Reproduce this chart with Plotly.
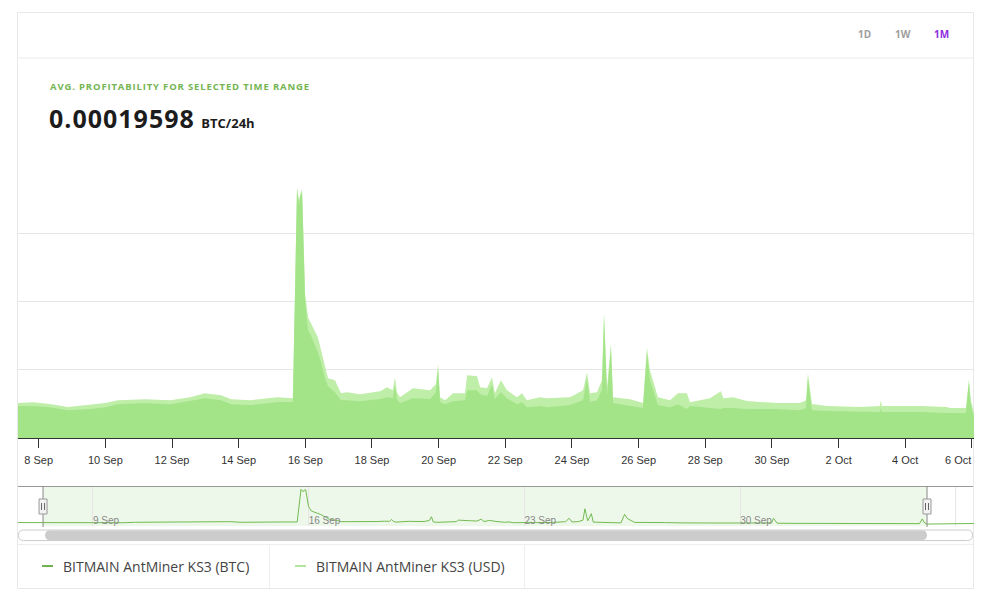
import plotly.graph_objects as go

# ---------------- data ----------------
times = [
    "2024-09-06 13:00", "2024-09-07 09:00", "2024-09-07 20:00", "2024-09-08 08:00", "2024-09-08 21:00",
    "2024-09-09 13:00", "2024-09-10 00:00", "2024-09-10 09:00", "2024-09-11 04:30", "2024-09-11 23:00",
    "2024-09-12 13:00", "2024-09-12 23:45", "2024-09-13 11:20", "2024-09-13 18:30", "2024-09-14 09:00",
    "2024-09-15 04:00", "2024-09-15 15:00", "2024-09-15 16:30", "2024-09-15 18:00", "2024-09-15 19:30",
    "2024-09-15 20:10", "2024-09-15 21:40", "2024-09-15 23:50", "2024-09-16 02:00", "2024-09-16 04:00",
    "2024-09-16 09:00", "2024-09-16 11:20", "2024-09-16 14:10", "2024-09-16 16:20", "2024-09-16 21:20",
    "2024-09-17 01:40", "2024-09-17 06:00", "2024-09-17 15:20", "2024-09-18 05:50", "2024-09-18 10:50",
    "2024-09-18 15:00", "2024-09-18 16:30", "2024-09-18 18:00", "2024-09-18 20:10", "2024-09-19 05:30",
    "2024-09-19 17:50", "2024-09-19 22:00", "2024-09-19 23:35", "2024-09-20 01:00", "2024-09-20 04:40",
    "2024-09-20 10:20", "2024-09-20 19:00", "2024-09-20 20:30", "2024-09-21 03:40", "2024-09-21 05:50",
    "2024-09-21 10:50", "2024-09-21 14:25", "2024-09-21 16:30", "2024-09-21 20:50", "2024-09-22 01:10",
    "2024-09-22 08:25", "2024-09-22 12:00", "2024-09-22 15:35", "2024-09-23 01:00", "2024-09-23 06:00",
    "2024-09-23 22:35", "2024-09-24 08:00", "2024-09-24 10:50", "2024-09-24 13:00", "2024-09-24 18:00",
    "2024-09-24 21:35", "2024-09-24 23:05", "2024-09-25 01:15", "2024-09-25 04:05", "2024-09-25 05:35",
    "2024-09-25 17:50", "2024-09-26 03:10", "2024-09-26 06:00", "2024-09-26 08:10", "2024-09-26 13:55",
    "2024-09-26 22:35", "2024-09-27 04:20", "2024-09-27 10:45", "2024-09-27 13:00", "2024-09-28 03:20",
    "2024-09-28 11:15", "2024-09-28 13:00", "2024-09-28 20:00", "2024-09-29 06:00", "2024-09-30 03:35",
    "2024-09-30 20:05", "2024-10-01 00:30", "2024-10-01 01:55", "2024-10-01 04:50", "2024-10-01 15:35",
    "2024-10-02 15:20", "2024-10-03 05:40", "2024-10-03 06:25", "2024-10-03 07:10", "2024-10-03 15:05",
    "2024-10-04 12:00", "2024-10-05 06:00", "2024-10-05 08:10", "2024-10-05 19:40", "2024-10-05 21:50",
    "2024-10-05 23:15", "2024-10-06 01:30", "2024-10-07 14:00",
]

btc = [
    0.000234, 0.000234, 0.000234, 0.000226, 0.000204,
    0.000212, 0.000226, 0.000248, 0.000256, 0.000248,
    0.000270, 0.000292, 0.000277, 0.000248, 0.000241,
    0.000263, 0.000263, 0.000971, 0.001818, 0.001708,
    0.001767, 0.001796, 0.001007, 0.000788, 0.000752,
    0.000628, 0.000555, 0.000438, 0.000380, 0.000336,
    0.000277, 0.000277, 0.000270, 0.000285, 0.000299,
    0.000292, 0.000387, 0.000285, 0.000256, 0.000292,
    0.000285, 0.000336, 0.000511, 0.000263, 0.000248,
    0.000270, 0.000277, 0.000350, 0.000350, 0.000321,
    0.000307, 0.000394, 0.000285, 0.000336, 0.000292,
    0.000248, 0.000263, 0.000226, 0.000234, 0.000226,
    0.000241, 0.000277, 0.000438, 0.000263, 0.000277,
    0.000350, 0.000891, 0.000314, 0.000657, 0.000256,
    0.000234, 0.000219, 0.000628, 0.000423, 0.000241,
    0.000226, 0.000248, 0.000212, 0.000234, 0.000219,
    0.000212, 0.000219, 0.000219, 0.000212, 0.000212,
    0.000204, 0.000219, 0.000438, 0.000204, 0.000197,
    0.000190, 0.000190, 0.000219, 0.000190, 0.000190,
    0.000190, 0.000183, 0.000183, 0.000183, 0.000409,
    0.000241, 0.000161, 0.000190,
]

usd = [
    12.78, 12.78, 13.14, 12.41, 11.32,
    12.05, 12.78, 13.87, 14.24, 13.87,
    14.97, 16.43, 15.70, 14.24, 13.87,
    14.97, 14.60, 50.37, 91.98, 86.87,
    89.06, 91.25, 52.93, 44.17, 41.98,
    36.87, 32.12, 25.92, 21.90, 21.17,
    16.43, 16.79, 16.06, 17.16, 18.62,
    17.52, 22.27, 16.79, 14.97, 18.25,
    17.52, 19.71, 27.01, 14.97, 13.87,
    16.43, 16.43, 23.00, 22.63, 18.62,
    18.25, 22.27, 16.43, 21.17, 17.52,
    14.97, 16.43, 13.87, 14.97, 14.60,
    14.97, 17.52, 24.09, 16.43, 16.79,
    21.17, 45.99, 18.62, 34.68, 14.97,
    14.24, 12.78, 33.22, 24.82, 14.97,
    13.87, 16.43, 16.43, 13.14, 14.60,
    17.16, 14.60, 14.97, 13.51, 12.78,
    12.78, 13.87, 23.73, 12.41, 11.68,
    11.32, 11.68, 13.87, 11.68, 11.68,
    11.68, 11.32, 10.95, 10.95, 21.54,
    13.87, 9.13, 11.00,
]

series_names = ["BITMAIN AntMiner KS3 (BTC)", "BITMAIN AntMiner KS3 (USD)"]
main_tick_dates = [
    "2024-09-08", "2024-09-10", "2024-09-12", "2024-09-14", "2024-09-16", "2024-09-18", "2024-09-20",
    "2024-09-22", "2024-09-24", "2024-09-26", "2024-09-28", "2024-09-30", "2024-10-02", "2024-10-04",
    "2024-10-06",
]
main_tick_labels = [
    "8 Sep", "10 Sep", "12 Sep", "14 Sep", "16 Sep", "18 Sep", "20 Sep",
    "22 Sep", "24 Sep", "26 Sep", "28 Sep", "30 Sep", "2 Oct", "4 Oct",
    "6 Oct",
]
nav_week_ticks = ["2024-09-09", "2024-09-16", "2024-09-23", "2024-09-30", "2024-10-07"]
nav_week_labels = ["9 Sep", "16 Sep", "23 Sep", "30 Sep", ""]
range_buttons = ["1D", "1W", "1M"]
avg_value = "0.00019598"

RANGE_START = "2024-09-07 09:06"
RANGE_END = "2024-10-06 01:30"
NAV_START = "2024-09-06 13:36"
NAV_END = "2024-10-07 14:06"

# ---------------- styling helpers ----------------
W, H = 974, 594


def px(x):
    return x / W


def py(y):
    return 1 - y / H


def rrect_path(x0, y0, x1, y1, r):
    pts = [
        ("M", (x0 + r, y0)), ("L", (x1 - r, y0)), ("Q", (x1, y0), (x1, y0 + r)),
        ("L", (x1, y1 - r)), ("Q", (x1, y1), (x1 - r, y1)), ("L", (x0 + r, y1)),
        ("Q", (x0, y1), (x0, y1 - r)), ("L", (x0, y0 + r)), ("Q", (x0, y0), (x0 + r, y0)),
    ]
    out = []
    for item in pts:
        cmd = item[0]
        coords = " ".join(f"{px(a):.5f},{py(b):.5f}" for a, b in item[1:])
        out.append(f"{cmd} {coords}")
    return " ".join(out) + " Z"


BTC_COLOR = "#6fb24f"
USD_COLOR = "#b3e59d"
BTC_FILL = "#a4e489"
USD_FILL = "#bfeea9"
GREEN_TITLE = "#74b552"
PURPLE = "#8e2de2"
TICK_FONT = dict(family="Liberation Sans", size=11, color="#333333")

fig = go.Figure()

fig.add_trace(go.Scatter(
    x=times, y=usd, xaxis="x", yaxis="y", mode="lines", name=series_names[1],
    line=dict(width=0, color=USD_COLOR), fill="tozeroy", fillcolor=USD_FILL,
    hoverinfo="skip", showlegend=False,
))
fig.add_trace(go.Scatter(
    x=times, y=btc, xaxis="x", yaxis="y2", mode="lines", name=series_names[0],
    line=dict(width=0, color=BTC_COLOR), fill="tozeroy", fillcolor=BTC_FILL,
    hoverinfo="skip", showlegend=False,
))
fig.add_trace(go.Scatter(
    x=times, y=btc, xaxis="x2", yaxis="y3", mode="lines", name="navigator",
    line=dict(width=1, color="#72bb50"), hoverinfo="skip", showlegend=False,
))

shapes = []
shapes.append(dict(type="rect", xref="paper", yref="paper", x0=px(17.5), x1=px(973.5), y0=py(12.5), y1=py(588.5),
                   line=dict(color="#e8e8e8", width=1), fillcolor="white", layer="below"))
shapes.append(dict(type="line", xref="paper", yref="paper", x0=px(18), x1=px(973), y0=py(58), y1=py(58),
                   line=dict(color="#ececec", width=1)))
shapes.append(dict(type="rect", xref="x2", yref="paper", x0=RANGE_START, x1=RANGE_END, y0=py(526), y1=py(486),
                   fillcolor="rgba(120,200,90,0.13)", line=dict(width=0), layer="below"))
shapes.append(dict(type="line", xref="paper", yref="paper", x0=px(18), x1=px(973), y0=py(486.5), y1=py(486.5),
                   line=dict(color="#999999", width=1)))
for t in (RANGE_START, RANGE_END):
    shapes.append(dict(type="line", xref="x2", yref="paper", xsizemode="pixel", xanchor=t, x0=0, x1=0,
                       y0=py(486), y1=py(527), line=dict(color="#888888", width=1)))
    shapes.append(dict(type="rect", xref="x2", yref="paper", xsizemode="pixel", xanchor=t, x0=-4, x1=4,
                       y0=py(499), y1=py(514), fillcolor="#f2f2f2", line=dict(color="#999999", width=1)))
    for dx in (-1.5, 1.5):
        shapes.append(dict(type="line", xref="x2", yref="paper", xsizemode="pixel", xanchor=t, x0=dx, x1=dx,
                           y0=py(503), y1=py(510), line=dict(color="#666666", width=1)))
shapes.append(dict(type="path", xref="paper", yref="paper", path=rrect_path(18.5, 530, 972.5, 540.5, 5),
                   fillcolor="white", line=dict(color="#cccccc", width=1)))
shapes.append(dict(type="path", xref="paper", yref="paper", path=rrect_path(45, 530.5, 927, 540, 4.7),
                   fillcolor="#cccccc", line=dict(width=0)))
shapes.append(dict(type="line", xref="paper", yref="paper", x0=px(18), x1=px(973), y0=py(544.5), y1=py(544.5),
                   line=dict(color="#eeeeee", width=1)))
for sx in (269.5, 524.5):
    shapes.append(dict(type="line", xref="paper", yref="paper", x0=px(sx), x1=px(sx), y0=py(545), y1=py(588),
                       line=dict(color="#eeeeee", width=1)))
for (x0, col) in ((42, BTC_COLOR), (295, USD_COLOR)):
    shapes.append(dict(type="line", xref="paper", yref="paper", x0=px(x0), x1=px(x0 + 11), y0=py(566), y1=py(566),
                       line=dict(color=col, width=2)))

annotations = []
for label, cx, col in zip(range_buttons, (864, 902.5, 941), ("#9e9e9e", "#9e9e9e", PURPLE)):
    annotations.append(dict(text=label, x=px(cx), y=py(34), xref="paper", yref="paper", showarrow=False,
                            xanchor="center", yanchor="middle",
                            font=dict(family="Open Sans", size=10, color=col, weight=700)))
annotations.append(dict(
    text="<span style='letter-spacing:0.85px'>AVG. PROFITABILITY FOR SELECTED TIME RANGE</span>",
    x=px(48), y=py(87), xref="paper", yref="paper", showarrow=False, xanchor="left", yanchor="middle",
    font=dict(family="Open Sans", size=9.5, color=GREEN_TITLE, weight=700)))
annotations.append(dict(
    text=f"<span style='letter-spacing:1px'>{avg_value}</span> <span style='font-size:13px'>BTC/24h</span>",
    x=px(47), y=py(118), xref="paper", yref="paper", showarrow=False, xanchor="left", yanchor="middle",
    font=dict(family="Open Sans", size=25, color="#1c1c1c", weight=700)))
for name, lx in zip(series_names, (61, 314)):
    annotations.append(dict(text=name, x=px(lx), y=py(566), xref="paper", yref="paper", showarrow=False,
                            xanchor="left", yanchor="middle",
                            font=dict(family="Open Sans", size=14, color="#444444")))
# last tick label is pulled inside the chart edge (as the original does)
annotations.append(dict(text=main_tick_labels[-1], x=main_tick_dates[-1], xref="x", y=py(460), yref="paper",
                        showarrow=False, xanchor="right", yanchor="middle", xshift=1, font=TICK_FONT))

fig.update_layout(
    width=W, height=H, autosize=False,
    margin=dict(l=0, r=0, t=0, b=0),
    paper_bgcolor="white", plot_bgcolor="rgba(0,0,0,0)",
    showlegend=False,
    xaxis=dict(
        domain=[px(18), px(974)], anchor="y", type="date", range=[RANGE_START, RANGE_END],
        tickvals=main_tick_dates, ticktext=main_tick_labels[:-1] + [""],
        ticks="outside", ticklen=9, tickcolor="#333333", tickwidth=1,
        showline=True, linecolor="#333333", linewidth=1, showgrid=False, zeroline=False,
        tickfont=TICK_FONT, ticklabelstandoff=3,
        fixedrange=True,
    ),
    yaxis=dict(
        domain=[py(438), py(165)], anchor="x", range=[0, 100.001], dtick=25,
        showticklabels=False, gridcolor="#e6e6e6", gridwidth=1, zeroline=False, showline=False,
        fixedrange=True,
    ),
    yaxis2=dict(overlaying="y", anchor="x", range=[0, 0.002], visible=False, showgrid=False, fixedrange=True),
    xaxis2=dict(
        domain=[px(18), px(974)], anchor="free", position=py(532), type="date", range=[NAV_START, NAV_END],
        tickvals=nav_week_ticks, ticktext=nav_week_labels, ticklabelposition="inside right",
        ticks="", showgrid=True, gridcolor="#e6e6e6", gridwidth=1, showline=False, zeroline=False,
        tickfont=dict(family="Liberation Sans", size=10, color="#888888"), fixedrange=True,
    ),
    yaxis3=dict(domain=[py(526), py(486)], anchor="x2", range=[0.00007, 0.00198], visible=False,
                fixedrange=True),
    shapes=shapes,
    annotations=annotations,
)

fig.write_html("out.html", config={"responsive": False})
